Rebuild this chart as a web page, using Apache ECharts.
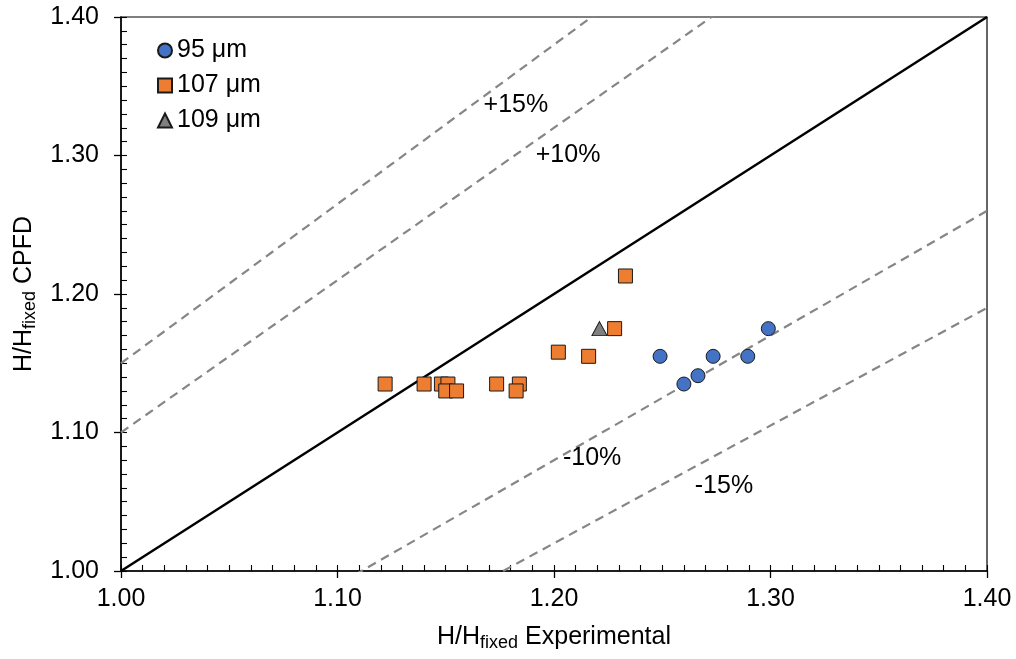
<!DOCTYPE html>
<html>
<head>
<meta charset="utf-8">
<script src="https://cdn.jsdelivr.net/npm/echarts@6/dist/echarts.min.js"></script>
<style>
  html, body { margin: 0; padding: 0; background: #fff; }
  #chart { width: 1016px; height: 659px; }
</style>
</head>
<body>
<div id="chart"></div>
<script>
// Measured bed-height ratios: experimental (x) vs. CPFD (y)
const exp95  = [1.249, 1.260, 1.2665, 1.2735, 1.2895, 1.299];
const cpfd95 = [1.155, 1.135, 1.141, 1.155, 1.155, 1.175];

const exp107  = [1.122, 1.140, 1.148, 1.151, 1.150, 1.155, 1.1735, 1.184, 1.1825, 1.202, 1.216, 1.228, 1.233];
const cpfd107 = [1.135, 1.135, 1.135, 1.135, 1.130, 1.130, 1.135, 1.135, 1.130, 1.158, 1.155, 1.175, 1.213];

const exp109  = [1.221];
const cpfd109 = [1.175];

// Parity line and deviation bands (ratio of CPFD to experiment)
const axisRange = [1.0, 1.4];
const parityRatio = 1.0;
const bandRatios = [1.15, 1.10, 0.90, 0.85];
const bandNames = ['+15%', '+10%', '-10%', '-15%'];
const bandLabelX = [1.1824, 1.2065, 1.2176, 1.2785];
const bandLabelY = [1.3365, 1.3005, 1.0815, 1.0615];

const majorStep = 0.1;
const minorStep = 0.01;
const tickDigits = 2;

const FONT = '"Liberation Sans", Arial, sans-serif';

function pairs(xs, ys) { return xs.map((x, i) => [x, ys[i]]); }
function ratioLine(k) { return axisRange.map(x => [x, x * k]); }

const chart = echarts.init(document.getElementById('chart'));

const mainAxis = (name, gap, rotate) => ({
  type: 'value',
  min: axisRange[0], max: axisRange[1], interval: majorStep,
  name: name,
  nameLocation: 'middle',
  nameGap: gap,
  nameRotate: rotate,
  nameTextStyle: {
    rich: {
      n: { fontFamily: FONT, fontSize: 25, color: '#000', lineHeight: 30 },
      s: { fontFamily: FONT, fontSize: 18, color: '#000', lineHeight: 30, padding: [12, 0, 0, 0] }
    }
  },
  axisLine: { show: true, onZero: false, lineStyle: { color: '#000', width: 1.5 } },
  axisTick: { show: true, inside: false, length: 7, lineStyle: { color: '#000', width: 1.3 } },
  splitLine: { show: false },
  axisLabel: {
    fontFamily: FONT, fontSize: 25, color: '#000', margin: 16,
    formatter: v => v.toFixed(tickDigits)
  }
});

// fine inward ticks every 0.01
const tickAxis = () => ({
  type: 'value',
  min: axisRange[0], max: axisRange[1], interval: minorStep,
  axisLine: { show: false },
  axisTick: { show: true, inside: true, interval: 0, length: 6, lineStyle: { color: '#000', width: 1.1 } },
  splitLine: { show: false },
  axisLabel: { show: false, interval: 0 }
});

const xMain = mainAxis('{n|H/H}{s|fixed}{n| Experimental}', 51, 0);
xMain.position = 'bottom';
const xTicks = tickAxis();
xTicks.position = 'bottom';

const yMain = mainAxis('{n|H/H}{s|fixed}{n| CPFD}', 81, 90);
yMain.position = 'left';
yMain.axisLabel.margin = 22;
const yTicks = tickAxis();
yTicks.position = 'left';

const markerBorder = { borderColor: '#1a1a1a', borderWidth: 1, opacity: 1 };

const bandSeries = bandRatios.map((k, i) => ({
  name: bandNames[i],
  type: 'line',
  data: ratioLine(k),
  showSymbol: false,
  symbol: 'none',
  silent: true,
  clip: true,
  lineStyle: { color: '#868686', width: 2.2, type: [9, 6] },
  z: 1
}));

chart.setOption({
  animation: false,
  backgroundColor: '#fff',
  grid: {
    left: 121, top: 17, right: 29, bottom: 88,
    show: true, borderColor: '#000', borderWidth: 1.2, backgroundColor: 'transparent'
  },
  legend: {
    data: ['95 μm', '107 μm', '109 μm'],
    orient: 'vertical',
    left: 152, top: 33,
    itemWidth: 14, itemHeight: 14, itemGap: 10,
    textStyle: { fontFamily: FONT, fontSize: 25, color: '#000' }
  },
  xAxis: [xMain, xTicks],
  yAxis: [yMain, yTicks],
  series: [
    ...bandSeries,
    {
      name: 'parity',
      type: 'line',
      data: ratioLine(parityRatio),
      showSymbol: false,
      symbol: 'none',
      silent: true,
      lineStyle: { color: '#000', width: 2.5 },
      z: 2
    },
    {
      name: 'band labels',
      type: 'scatter',
      symbolSize: 0,
      silent: true,
      itemStyle: { opacity: 1 },
      data: bandNames.map((n, i) => ({ name: n, value: [bandLabelX[i], bandLabelY[i]] })),
      label: {
        show: true, position: 'inside',
        formatter: p => p.name,
        fontFamily: FONT, fontSize: 25, color: '#000'
      },
      z: 3
    },
    {
      name: '107 μm',
      type: 'scatter',
      symbol: 'rect',
      symbolSize: 14,
      data: pairs(exp107, cpfd107),
      itemStyle: Object.assign({ color: '#ED7D31' }, markerBorder),
      z: 5
    },
    {
      name: '109 μm',
      type: 'scatter',
      symbol: 'triangle',
      symbolSize: [15, 14],
      data: pairs(exp109, cpfd109),
      itemStyle: Object.assign({ color: '#7F7F7F' }, markerBorder),
      z: 5
    },
    {
      name: '95 μm',
      type: 'scatter',
      symbol: 'circle',
      symbolSize: 14,
      data: pairs(exp95, cpfd95),
      itemStyle: Object.assign({ color: '#4472C4' }, markerBorder),
      z: 5
    }
  ]
});
</script>
</body>
</html>
